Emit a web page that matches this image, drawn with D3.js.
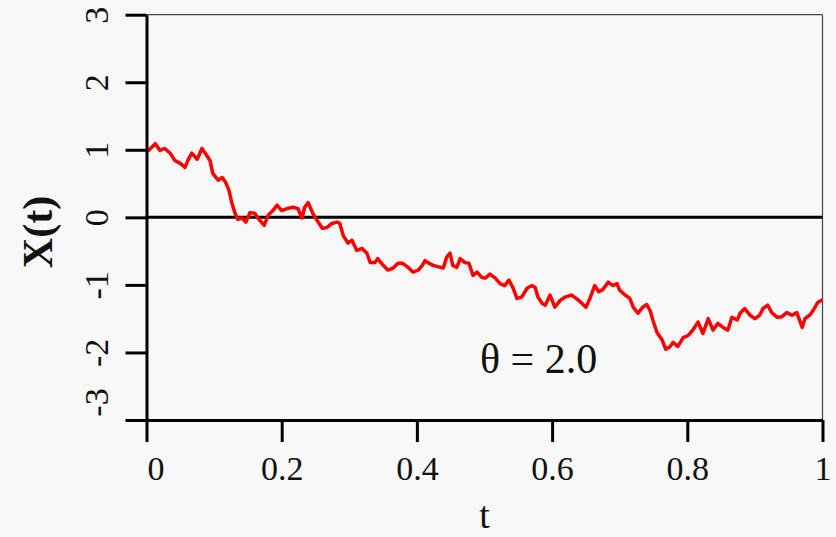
<!DOCTYPE html>
<html>
<head>
<meta charset="utf-8">
<script src="https://cdn.jsdelivr.net/npm/d3@7"></script>
<style>
  html, body { margin: 0; padding: 0; background: #f8f8f8; }
  svg { display: block; }
</style>
</head>
<body>
<svg id="chart" width="836" height="537"></svg>
<script>
// ---- data ----
const tValues = [
  0.000, 0.003, 0.013, 0.020, 0.027, 0.035, 0.042, 0.050, 0.057, 0.061, 0.067, 0.075, 0.082, 0.089, 0.094,
  0.098, 0.106, 0.112, 0.117, 0.122, 0.126, 0.131, 0.135, 0.141, 0.147, 0.153, 0.160, 0.165, 0.174, 0.180,
  0.187, 0.193, 0.200, 0.208, 0.217, 0.224, 0.230, 0.234, 0.239, 0.246, 0.252, 0.260, 0.267, 0.274, 0.282,
  0.286, 0.291, 0.298, 0.304, 0.311, 0.319, 0.326, 0.331, 0.338, 0.342, 0.350, 0.357, 0.365, 0.372, 0.379,
  0.387, 0.394, 0.402, 0.408, 0.412, 0.416, 0.424, 0.431, 0.439, 0.444, 0.449, 0.453, 0.459, 0.464, 0.471,
  0.477, 0.483, 0.489, 0.496, 0.501, 0.508, 0.516, 0.523, 0.530, 0.536, 0.542, 0.548, 0.555, 0.563, 0.570,
  0.575, 0.579, 0.585, 0.590, 0.597, 0.604, 0.612, 0.619, 0.629, 0.637, 0.644, 0.650, 0.656, 0.663, 0.669,
  0.675, 0.683, 0.690, 0.696, 0.700, 0.708, 0.715, 0.720, 0.727, 0.734, 0.740, 0.745, 0.749, 0.755, 0.763,
  0.768, 0.774, 0.779, 0.786, 0.794, 0.801, 0.808, 0.816, 0.823, 0.831, 0.838, 0.845, 0.853, 0.860, 0.866,
  0.874, 0.878, 0.885, 0.893, 0.900, 0.907, 0.912, 0.919, 0.925, 0.933, 0.940, 0.947, 0.955, 0.962, 0.970,
  0.974, 0.981, 0.986, 0.993, 1.000
];
const xValues = [
  1.00, 0.99, 1.09, 0.99, 1.02, 0.95, 0.84, 0.80, 0.74, 0.84, 0.95, 0.86, 1.02, 0.92, 0.84,
  0.65, 0.55, 0.59, 0.52, 0.40, 0.22, 0.06, -0.03, -0.01, -0.07, 0.07, 0.06, -0.01, -0.12, 0.03,
  0.10, 0.18, 0.10, 0.13, 0.15, 0.13, -0.01, 0.15, 0.22, 0.06, -0.04, -0.16, -0.15, -0.09, -0.07,
  -0.09, -0.27, -0.38, -0.34, -0.49, -0.46, -0.53, -0.67, -0.67, -0.61, -0.71, -0.78, -0.75, -0.68, -0.68,
  -0.74, -0.81, -0.78, -0.71, -0.64, -0.67, -0.71, -0.73, -0.75, -0.59, -0.53, -0.71, -0.74, -0.61, -0.67,
  -0.68, -0.86, -0.81, -0.89, -0.90, -0.84, -0.90, -0.98, -1.01, -0.93, -1.04, -1.20, -1.18, -1.05, -1.01,
  -1.04, -1.18, -1.27, -1.30, -1.15, -1.33, -1.23, -1.18, -1.15, -1.21, -1.27, -1.33, -1.20, -1.01, -1.10,
  -1.07, -0.96, -1.01, -0.98, -1.08, -1.15, -1.20, -1.33, -1.42, -1.33, -1.29, -1.38, -1.52, -1.70, -1.82,
  -1.95, -1.92, -1.85, -1.91, -1.78, -1.75, -1.67, -1.55, -1.72, -1.50, -1.67, -1.57, -1.63, -1.67, -1.48,
  -1.52, -1.42, -1.35, -1.45, -1.50, -1.45, -1.35, -1.30, -1.41, -1.48, -1.47, -1.41, -1.45, -1.41, -1.63,
  -1.50, -1.45, -1.38, -1.26, -1.22
];
const xTicks = [0, 0.2, 0.4, 0.6, 0.8, 1];
const xTickLabels = ["0", "0.2", "0.4", "0.6", "0.8", "1"];
const yTicks = [-3, -2, -1, 0, 1, 2, 3];
const yTickLabels = ["-3", "-2", "-1", "0", "1", "2", "3"];
const xTitle = "t";
const yTitle = "X(t)";
const annotation = "θ = 2.0";

(function () {
  // ---- layout ----
  const svg = d3.select("#chart");
  const mLeft = 146.5, mRight = 822.5, mTop = 14.7, mBottom = 420;
  const x = d3.scaleLinear().domain([0, 1]).range([mLeft, mRight]);
  const y = d3.scaleLinear().domain([-3, 3]).range([mBottom, mTop]);
  const serif = "'Liberation Serif', 'Times New Roman', serif";

  svg.append("rect").attr("width", 836).attr("height", 537).attr("fill", "#f8f8f8");

  // thin top & right frame
  svg.append("line").attr("x1", mLeft).attr("x2", mRight).attr("y1", mTop).attr("y2", mTop)
    .attr("stroke", "#444").attr("stroke-width", 1.2);
  svg.append("line").attr("x1", mRight).attr("x2", mRight).attr("y1", mTop).attr("y2", mBottom)
    .attr("stroke", "#444").attr("stroke-width", 1.2);

  // zero line
  svg.append("line").attr("x1", mLeft).attr("x2", mRight).attr("y1", y(0)).attr("y2", y(0))
    .attr("stroke", "#000").attr("stroke-width", 3);

  // series line
  const line = d3.line().x((d, i) => x(tValues[i])).y(d => y(d));
  svg.append("path").datum(xValues)
    .attr("d", line)
    .attr("fill", "none")
    .attr("stroke", "#ff0000")
    .attr("stroke-width", 3.5)
    .attr("stroke-linejoin", "round");

  // axes
  const yAxis = d3.axisLeft(y).tickValues(yTicks).tickSize(21).tickSizeOuter(0)
    .tickFormat((d, i) => yTickLabels[i]);
  const gy = svg.append("g").attr("transform", `translate(${mLeft},0)`).call(yAxis);
  gy.select(".domain").attr("stroke", "#000").attr("stroke-width", 3);
  gy.selectAll(".tick line").attr("stroke", "#000").attr("stroke-width", 3);
  gy.selectAll(".tick text")
    .attr("font-family", serif).attr("font-size", 34).attr("fill", "#111")
    .attr("text-anchor", "middle")
    .attr("x", null).attr("dy", null)
    .attr("transform", d => `translate(-39,0) rotate(-90) translate(${d === -3 ? 18 : 0},0)`);

  const xAxis = d3.axisBottom(x).tickValues(xTicks).tickSize(22).tickSizeOuter(0)
    .tickFormat((d, i) => xTickLabels[i]);
  const gx = svg.append("g").attr("transform", `translate(0,${mBottom})`).call(xAxis);
  gx.select(".domain").attr("stroke", "#000").attr("stroke-width", 3);
  gx.selectAll(".tick line").attr("stroke", "#000").attr("stroke-width", 3);
  gx.selectAll(".tick text")
    .attr("font-family", serif).attr("font-size", 34).attr("fill", "#111")
    .attr("y", 60).attr("dy", null)
    .attr("dx", d => d === 0 ? 9 : 0);

  // titles
  svg.append("text")
    .attr("transform", `translate(52,232) rotate(-90)`)
    .attr("text-anchor", "middle")
    .attr("font-family", serif).attr("font-size", 42).attr("font-weight", "bold")
    .attr("fill", "#111")
    .text(yTitle);
  svg.append("text")
    .attr("x", (mLeft + mRight) / 2).attr("y", 528)
    .attr("text-anchor", "middle")
    .attr("font-family", serif).attr("font-size", 38)
    .attr("fill", "#111")
    .text(xTitle);
  svg.append("text")
    .attr("x", x(0.58)).attr("y", y(-2.3))
    .attr("text-anchor", "middle")
    .attr("font-family", serif).attr("font-size", 42)
    .attr("fill", "#111")
    .text(annotation);
})();
</script>
</body>
</html>
